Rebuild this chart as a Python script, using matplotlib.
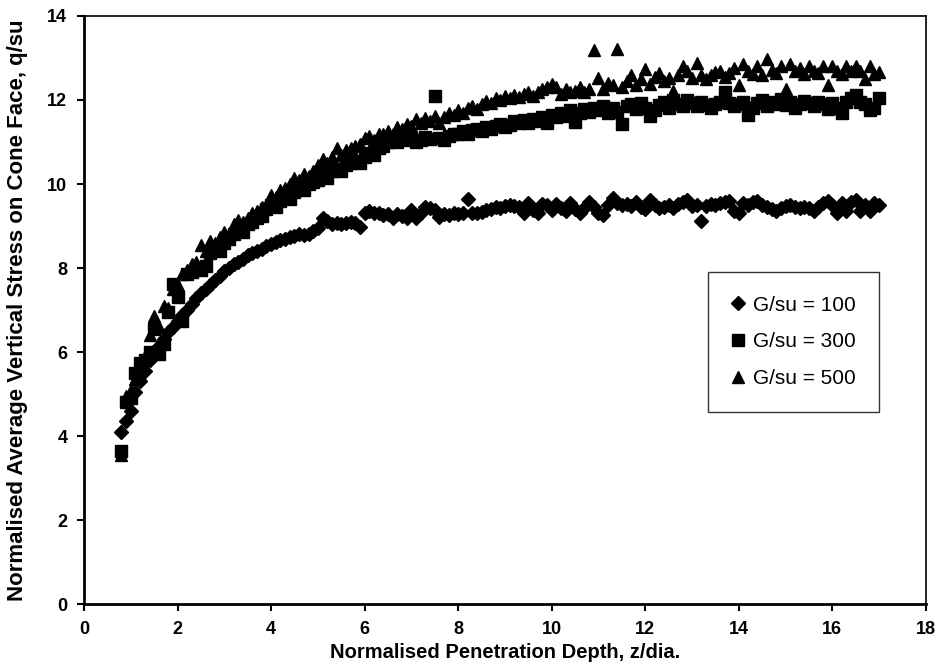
import matplotlib
matplotlib.use("Agg")
import matplotlib.pyplot as plt

# normalised penetration depth z/dia (common output steps)
depth = [0.8, 0.9,
         1.0, 1.1, 1.2, 1.3, 1.4, 1.5, 1.6, 1.7, 1.8, 1.9,
         2.0, 2.1, 2.2, 2.3, 2.4, 2.5, 2.6, 2.7, 2.8, 2.9,
         3.0, 3.1, 3.2, 3.3, 3.4, 3.5, 3.6, 3.7, 3.8, 3.9,
         4.0, 4.1, 4.2, 4.3, 4.4, 4.5, 4.6, 4.7, 4.8, 4.9,
         5.0, 5.1, 5.2, 5.3, 5.4, 5.5, 5.6, 5.7, 5.8, 5.9,
         6.0, 6.1, 6.2, 6.3, 6.4, 6.5, 6.6, 6.7, 6.8, 6.9,
         7.0, 7.1, 7.2, 7.3, 7.4, 7.5, 7.6, 7.7, 7.8, 7.9,
         8.0, 8.1, 8.2, 8.3, 8.4, 8.5, 8.6, 8.7, 8.8, 8.9,
         9.0, 9.1, 9.2, 9.3, 9.4, 9.5, 9.6, 9.7, 9.8, 9.9,
         10.0, 10.1, 10.2, 10.3, 10.4, 10.5, 10.6, 10.7, 10.8, 10.9,
         11.0, 11.1, 11.2, 11.3, 11.4, 11.5, 11.6, 11.7, 11.8, 11.9,
         12.0, 12.1, 12.2, 12.3, 12.4, 12.5, 12.6, 12.7, 12.8, 12.9,
         13.0, 13.1, 13.2, 13.3, 13.4, 13.5, 13.6, 13.7, 13.8, 13.9,
         14.0, 14.1, 14.2, 14.3, 14.4, 14.5, 14.6, 14.7, 14.8, 14.9,
         15.0, 15.1, 15.2, 15.3, 15.4, 15.5, 15.6, 15.7, 15.8, 15.9,
         16.0, 16.1, 16.2, 16.3, 16.4, 16.5, 16.6, 16.7, 16.8, 16.9,
         17.0]

# G/su = 100
q_100 = [4.1, 4.35,
         4.6, 5.05, 5.3, 5.55, 5.8, 6.0, 6.15, 6.3, 6.48, 6.6,
         6.75, 6.88, 7.0, 7.15, 7.28, 7.4, 7.5, 7.6, 7.72, 7.82,
         7.92, 8.0, 8.1, 8.15, 8.22, 8.3, 8.35, 8.4, 8.45, 8.52,
         8.58, 8.62, 8.66, 8.7, 8.74, 8.76, 8.8, 8.78, 8.82, 8.88,
         8.95, 9.18, 9.12, 9.05, 9.08, 9.04, 9.08, 9.1, 9.06, 8.98,
         9.32, 9.35, 9.3, 9.3, 9.26, 9.28, 9.2, 9.28, 9.24, 9.18,
         9.38, 9.2, 9.3, 9.45, 9.42, 9.38, 9.22, 9.28, 9.26, 9.3,
         9.28, 9.3, 9.64, 9.3, 9.32, 9.33, 9.38, 9.4, 9.45, 9.42,
         9.48, 9.5, 9.48, 9.45, 9.3, 9.55, 9.38, 9.3, 9.52, 9.5,
         9.38, 9.52, 9.42, 9.36, 9.55, 9.4, 9.32, 9.44, 9.58, 9.45,
         9.32, 9.26, 9.5, 9.66, 9.55, 9.5, 9.52, 9.48, 9.56, 9.46,
         9.4, 9.62, 9.5, 9.42, 9.45, 9.5, 9.42, 9.52, 9.58, 9.62,
         9.48, 9.5, 9.12, 9.48, 9.52, 9.5, 9.55, 9.58, 9.6, 9.35,
         9.3, 9.55, 9.5, 9.58, 9.6, 9.5, 9.45, 9.4, 9.35, 9.42,
         9.48, 9.5, 9.45, 9.42, 9.46, 9.44, 9.35, 9.45, 9.55, 9.6,
         9.5, 9.32, 9.55, 9.36, 9.58, 9.62, 9.35, 9.5, 9.36, 9.55,
         9.5]

# G/su = 300
q_300 = [3.65, 4.8,
         4.9, 5.5, 5.75, 5.8, 6.0, 6.55, 5.95, 6.2, 6.95, 7.62,
         7.3, 6.75, 7.85, 7.9, 8.0, 7.95, 8.05, 8.35, 8.45, 8.4,
         8.6, 8.7, 8.8, 8.9, 8.85, 9.05, 9.1, 9.2, 9.25, 9.4,
         9.5, 9.45, 9.6, 9.7, 9.65, 9.8, 9.9, 9.85, 10.0, 10.05,
         10.1, 10.2, 10.15, 10.3, 10.35, 10.3, 10.45, 10.5, 10.55, 10.5,
         10.65, 10.75, 10.7, 10.85, 10.9, 11.0, 11.05, 11.0, 11.1, 11.05,
         11.1, 11.0, 11.05, 11.12, 11.08, 12.1, 11.1, 11.05, 11.15, 11.2,
         11.18, 11.25, 11.2, 11.28, 11.3, 11.25, 11.35, 11.3, 11.38, 11.42,
         11.35, 11.4, 11.5, 11.45, 11.52, 11.45, 11.55, 11.5, 11.6, 11.45,
         11.65, 11.6, 11.7, 11.62, 11.75, 11.48, 11.7, 11.78, 11.72, 11.8,
         11.75, 11.85, 11.7, 11.8, 11.72, 11.42, 11.85, 11.9, 11.78, 11.92,
         11.8, 11.62, 11.75, 11.88, 11.95, 11.8, 12.0, 11.9, 11.85, 12.0,
         11.92, 11.85, 11.95, 11.88, 11.8, 11.9, 11.95, 12.2, 11.92, 11.85,
         11.9, 11.95, 11.65, 11.8, 11.92, 12.0, 11.85, 11.95, 11.9, 12.02,
         11.88, 11.95, 11.8, 11.9, 11.98, 11.92, 11.85, 11.95, 11.9, 11.78,
         11.92, 11.8, 11.7, 11.95, 12.05, 12.12, 11.95, 11.9, 11.75, 11.8,
         12.05]

# G/su = 500
q_500 = [3.55, 4.95,
         5.1, 5.35, 5.6, 5.9, 6.4, 6.85, 6.6, 7.1, 7.05, 7.5,
         7.6, 7.85, 7.95, 8.1, 8.15, 8.55, 8.4, 8.65, 8.6, 8.75,
         8.85, 8.8, 9.05, 9.15, 9.1, 9.2, 9.3, 9.35, 9.45, 9.5,
         9.75, 9.7, 9.85, 9.9, 10.0, 10.15, 10.1, 10.25, 10.2, 10.3,
         10.45, 10.6, 10.5, 10.65, 10.85, 10.7, 10.8, 10.85, 10.9, 10.95,
         11.1, 11.15, 11.05, 11.2, 11.18, 11.25, 11.2, 11.35, 11.3, 11.42,
         11.38, 11.55, 11.45, 11.58, 11.5, 11.62, 11.45, 11.6, 11.7, 11.65,
         11.75, 11.7, 11.8, 11.85, 11.78, 11.9, 11.98, 11.92, 12.05, 12.0,
         12.1, 12.05, 12.12, 12.08, 12.15, 12.18, 12.1, 12.2, 12.25, 12.3,
         12.38, 12.3, 12.15, 12.25, 12.2, 12.22, 12.3, 12.2, 12.25, 13.2,
         12.52, 12.26, 12.4, 12.35, 13.22, 12.3, 12.45, 12.6, 12.35, 12.5,
         12.74, 12.38, 12.55, 12.64, 12.45, 12.52, 12.22, 12.6, 12.82, 12.7,
         12.52, 12.88, 12.6, 12.5, 12.6, 12.66, 12.7, 12.55, 12.65, 12.76,
         12.36, 12.86, 12.7, 12.62, 12.82, 12.6, 12.98, 12.72, 12.65, 12.8,
         12.26, 12.86, 12.7, 12.76, 12.62, 12.8, 12.7, 12.65, 12.8, 12.36,
         12.82, 12.7, 12.62, 12.82, 12.7, 12.82, 12.68, 12.5, 12.8, 12.62,
         12.66]

plt.rcParams['font.family'] = ['Liberation Sans', 'DejaVu Sans']

fig = plt.figure(figsize=(9.39, 6.66), dpi=100)
ax = fig.add_axes([0.0895, 0.093, 0.8965, 0.883])

ax.plot(depth, q_100, linestyle='none', marker='D', markersize=6.8,
        color='black', label='G/su = 100')
ax.plot(depth, q_300, linestyle='none', marker='s', markersize=8.6,
        color='black', label='G/su = 300')
ax.plot(depth, q_500, linestyle='none', marker='^', markersize=8.8,
        color='black', label='G/su = 500')

ax.set_xlim(0, 18)
ax.set_ylim(0, 14)
ax.set_xticks(range(0, 19, 2))
ax.set_yticks(range(0, 15, 2))
ax.tick_params(direction='out', length=5, width=1.5, labelsize=13, pad=7)
for lab in ax.get_xticklabels() + ax.get_yticklabels():
    lab.set_fontweight('bold')
for side in ['left', 'bottom']:
    ax.spines[side].set_linewidth(2)
for side in ['top', 'right']:
    ax.spines[side].set_linewidth(1.2)

ax.set_xlabel('Normalised Penetration Depth, z/dia.', fontsize=14.5,
              fontweight='bold')
ax.set_ylabel('Normalised Average Vertical Stress on Cone Face, q/su',
              fontsize=16, fontweight='bold')
ax.xaxis.set_label_coords(0.5, -0.066)
ax.yaxis.set_label_coords(-0.066, 0.5)

leg = ax.legend(loc='upper left', bbox_to_anchor=(0.741, 0.565),
                fontsize=15, frameon=True, fancybox=False,
                handlelength=0.6, handletextpad=0.4, borderpad=1.15,
                labelspacing=0.85, borderaxespad=0)
leg.get_frame().set_edgecolor('black')
leg.get_frame().set_linewidth(1.0)

fig.savefig('out.png', dpi=100)
